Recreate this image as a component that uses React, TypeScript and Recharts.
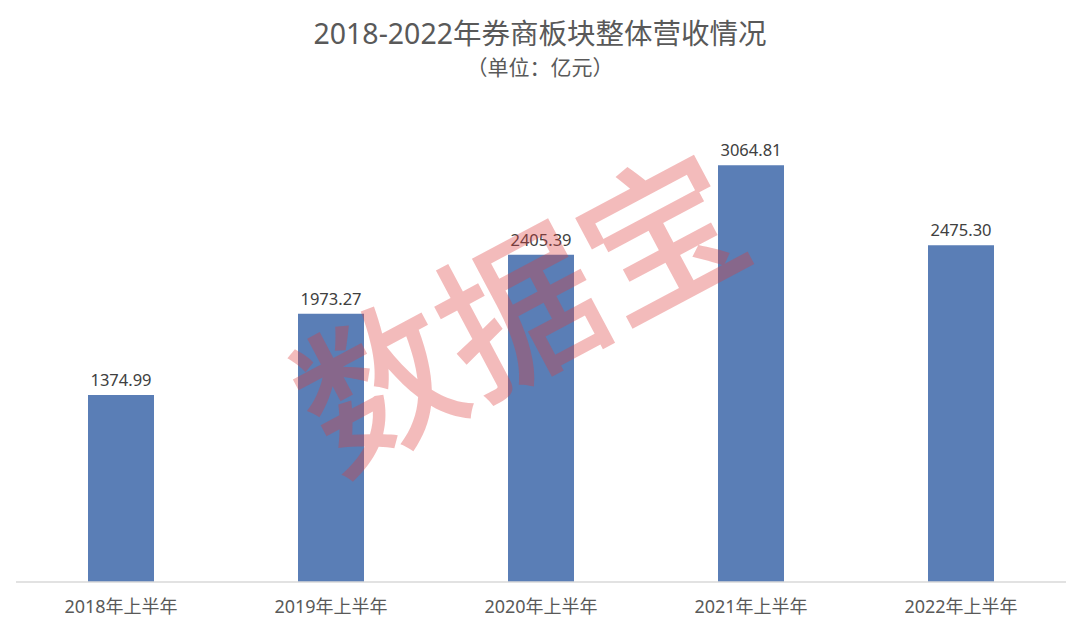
import React from "react";
import { BarChart, Bar, XAxis, YAxis, LabelList } from "recharts";

// 券商板块上半年营收（亿元）
const periods = ["2018年上半年", "2019年上半年", "2020年上半年", "2021年上半年", "2022年上半年"];
const revenue = [1374.99, 1973.27, 2405.39, 3064.81, 2475.3];

const data = periods.map((p, i) => ({ period: p, revenue: revenue[i] }));

const font = "'Noto Sans', 'Noto Sans CJK SC', sans-serif";

export default function App() {
  return (
    <div style={{ position: "absolute", left: 0, top: 0, width: 1080, height: 632, background: "#fff", fontFamily: font, overflow: "hidden" }}>
      <div style={{ position: "absolute", top: 13, width: 1080, textAlign: "center", fontSize: 28.5, lineHeight: "40px", color: "#595959" }}>
        2018-2022年券商板块整体营收情况
      </div>
      <div style={{ position: "absolute", top: 52, width: 1080, textAlign: "center", fontSize: 21, lineHeight: "30px", color: "#595959" }}>
        （单位：亿元）
      </div>
      <BarChart
        width={1080}
        height={632}
        data={data}
        margin={{ top: 106, right: 14, bottom: 20, left: 16 }}
        barSize={66}
      >
        <XAxis
          dataKey="period"
          axisLine={{ stroke: "#d9d9d9", strokeWidth: 1.5 }}
          tickLine={false}
          tick={{ fill: "#595959", fontSize: 18, fontFamily: font }}
          tickMargin={12}
        />
        <YAxis hide domain={[0, 3500]} />
        <Bar dataKey="revenue" fill="#5a7eb6" isAnimationActive={false}>
          <LabelList
            dataKey="revenue"
            position="top"
            offset={9}
            formatter={(v: number) => v.toFixed(2)}
            style={{ fill: "#404040", fontSize: 16.5, fontFamily: font }}
          />
        </Bar>
      </BarChart>
      <div
        style={{
          position: "absolute",
          left: 515,
          top: 302,
          transform: "translate(-50%, -50%) rotate(-28deg)",
          fontSize: 160,
          lineHeight: 1,
          whiteSpace: "nowrap",
          color: "rgba(220, 60, 60, 0.35)",
          fontFamily: "'Noto Sans CJK SC', sans-serif",
          fontWeight: 500,
          pointerEvents: "none",
        }}
      >
        数据宝
      </div>
    </div>
  );
}
